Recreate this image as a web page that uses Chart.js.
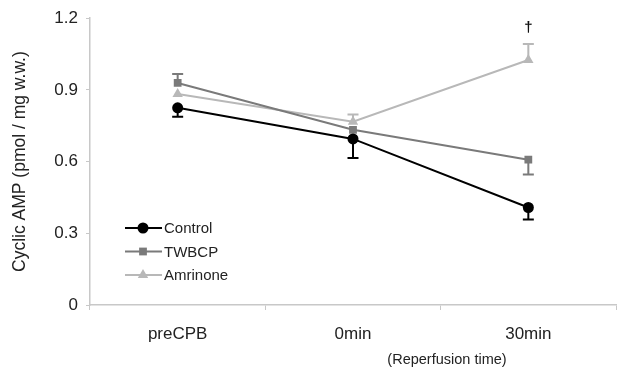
<!DOCTYPE html>
<html>
<head>
<meta charset="utf-8">
<script src="https://cdn.jsdelivr.net/npm/chart.js@4/dist/chart.umd.min.js"></script>
<style>
  html, body { margin: 0; padding: 0; background: #fff; }
  #wrap { width: 622px; height: 369px; }
</style>
</head>
<body>
<div id="wrap"><canvas id="chart" width="622" height="369"></canvas></div>
<script>
const categories = ['preCPB', '0min', '30min'];
const yTicks = [0, 0.3, 0.6, 0.9, 1.2];

const control = [0.825, 0.695, 0.408];
const twbcp = [0.929, 0.733, 0.608];
const amrinone = [0.883, 0.767, 1.025];

// signed error bars: + drawn upwards, - drawn downwards, 0 hidden
const controlErr = [-0.037, -0.08, -0.05];
const twbcpErr = [0.038, 0, -0.062];
const amrinoneErr = [0, 0.03, 0.067];

const FONT = 'Arial, "Liberation Sans", sans-serif';

const errorBars = {
	id: 'errorBars',
	afterDatasetsDraw(chart) {
		const ctx = chart.ctx;
		const y = chart.scales.y;
		chart.data.datasets.forEach((ds, i) => {
			const meta = chart.getDatasetMeta(i);
			ds.errors.forEach((err, j) => {
				if (!err) return;
				const pt = meta.data[j];
				const yEnd = y.getPixelForValue(ds.data[j] + err);
				ctx.save();
				ctx.strokeStyle = ds.borderColor;
				ctx.lineWidth = 2;
				ctx.beginPath();
				ctx.moveTo(pt.x, pt.y);
				ctx.lineTo(pt.x, yEnd);
				ctx.moveTo(pt.x - 5.5, yEnd);
				ctx.lineTo(pt.x + 5.5, yEnd);
				ctx.stroke();
				ctx.restore();
			});
		});
	}
};

const extras = {
	id: 'extras',
	afterDraw(chart) {
		const ctx = chart.ctx;
		const x = chart.scales.x;
		const y = chart.scales.y;

		// legend inside plot
		chart.data.datasets.forEach((ds, i) => {
			const ly = 228 + i * 23.5;
			ctx.save();
			ctx.strokeStyle = ds.borderColor;
			ctx.lineWidth = 2;
			ctx.beginPath();
			ctx.moveTo(125, ly);
			ctx.lineTo(162, ly);
			ctx.stroke();
			ctx.fillStyle = ds.backgroundColor;
			Chart.helpers.drawPoint(ctx, {
				pointStyle: ds.pointStyle,
				radius: ds.pointRadius,
				borderWidth: 0
			}, 143, ly);
			ctx.fillStyle = '#222';
			ctx.font = '15px ' + FONT;
			ctx.textBaseline = 'middle';
			ctx.textAlign = 'left';
			ctx.fillText(ds.label, 164, ly + 1);
			ctx.restore();
		});

		// dagger above Amrinone at 30min
		const ds = chart.data.datasets[2];
		const dx = x.getPixelForValue(2);
		const dy = y.getPixelForValue(ds.data[2] + ds.errors[2]) - 16;
		ctx.save();
		ctx.fillStyle = '#111';
		ctx.font = 'bold 15px ' + FONT;
		ctx.textAlign = 'center';
		ctx.textBaseline = 'middle';
		ctx.fillText('\u2020', dx, dy);

		// x axis note
		ctx.fillStyle = '#222';
		ctx.font = '14.5px ' + FONT;
		ctx.fillText('(Reperfusion time)', 447, 360);
		ctx.restore();
	}
};

new Chart(document.getElementById('chart'), {
	type: 'line',
	data: {
		labels: categories,
		datasets: [
			{
				label: 'Control',
				data: control,
				errors: controlErr,
				borderColor: '#000',
				backgroundColor: '#000',
				pointStyle: 'circle',
				pointRadius: 5.5
			},
			{
				label: 'TWBCP',
				data: twbcp,
				errors: twbcpErr,
				borderColor: '#7a7a7a',
				backgroundColor: '#7a7a7a',
				pointStyle: 'rect',
				pointRadius: 5.5
			},
			{
				label: 'Amrinone',
				data: amrinone,
				errors: amrinoneErr,
				borderColor: '#b8b8b8',
				backgroundColor: '#b8b8b8',
				pointStyle: 'triangle',
				pointRadius: 6
			}
		]
	},
	options: {
		responsive: false,
		animation: false,
		layout: { padding: { top: 17, right: 0, left: 10, bottom: 0 } },
		elements: {
			line: { borderWidth: 2, tension: 0 },
			point: { borderWidth: 0, hoverRadius: 6 }
		},
		plugins: {
			legend: { display: false },
			tooltip: { enabled: false }
		},
		scales: {
			x: {
				offset: true,
				border: { color: '#c8c8c8', width: 1.5 },
				grid: { display: true, drawOnChartArea: false, offset: true, color: '#c8c8c8', tickLength: 5 },
				ticks: { color: '#222', padding: 14, font: { size: 17, family: FONT } },
				afterFit: (scale) => { scale.height = 64; }
			},
			y: {
				min: 0,
				max: 1.2,
				border: { color: '#c8c8c8', width: 1.5 },
				grid: { display: true, drawOnChartArea: false, color: '#c8c8c8', tickLength: 4 },
				afterBuildTicks: (scale) => { scale.ticks = yTicks.map(v => ({ value: v })); },
				ticks: {
					color: '#222',
					padding: 8,
					font: { size: 17, family: FONT },
					callback: (v) => v === 0 ? '0' : v.toFixed(1)
				},
				title: {
					display: true,
					text: 'Cyclic AMP (pmol / mg w.w.)',
					color: '#222',
					font: { size: 17.5, family: FONT },
					padding: { top: 0, bottom: 10 }
				},
				afterFit: (scale) => { scale.width = 80; }
			}
		}
	},
	plugins: [errorBars, extras]
});
</script>
</body>
</html>
